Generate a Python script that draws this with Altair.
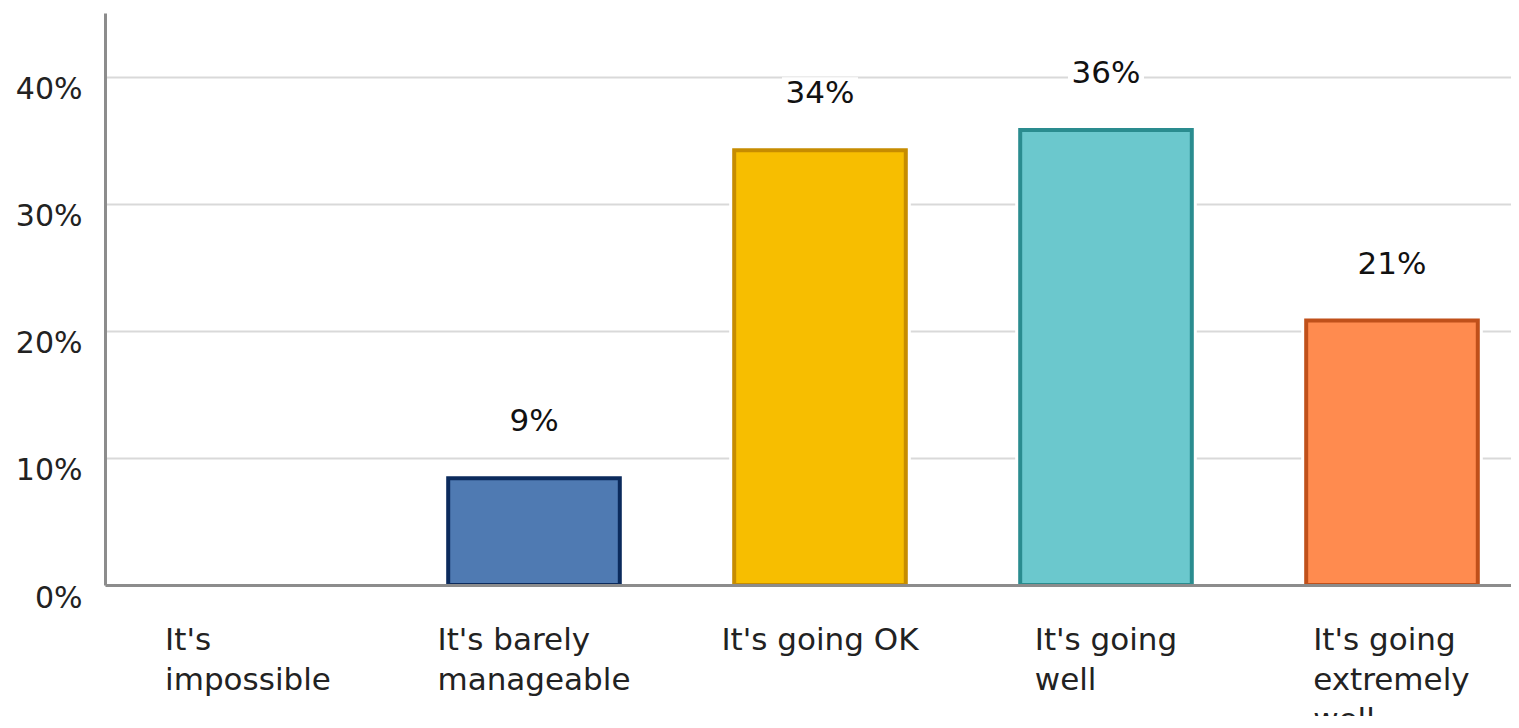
import altair as alt
import pandas as pd

cats = ["It's impossible", "It's barely manageable", "It's going OK",
        "It's going well", "It's going extremely well"]
label_lines = [["It's", "impossible"], ["It's barely", "manageable"], ["It's going OK"],
               ["It's going", "well"], ["It's going", "extremely", "well"]]
values = [0.0, 0.084, 0.342, 0.358, 0.208]
pct_labels = ["0%", "9%", "34%", "36%", "21%"]
fills = ["#9a9a9a", "#4f7ab2", "#f7be00", "#6bc8cd", "#ff8b4f"]
edges = ["#6a6a6a", "#0b2a5c", "#c68c00", "#2a8c8f", "#c0501a"]
y_ticks = [0, 0.1, 0.2, 0.3, 0.4]

FONT = "DejaVu Sans"
FS = 31
# approximate DejaVu Sans advance widths (em) for centering the multi-line label blocks
CW = {"I": .295, "t": .392, "'": .275, "s": .521, " ": .318, "i": .278, "m": .974,
      "p": .635, "o": .612, "b": .635, "l": .278, "e": .615, "a": .613, "r": .411,
      "y": .592, "n": .634, "g": .635, "O": .787, "K": .656, "w": .818, "x": .592}


def text_w(s):
    return sum(CW.get(c, .6) for c in s) * FS


df = pd.DataFrame({
    "idx": list(range(len(cats))),
    "cat": cats,
    "value": values,
    "pct": pct_labels,
    "lab": ["\n".join(l) for l in label_lines],
})

x_enc = alt.X("cat:N", sort=cats,
              scale=alt.Scale(domain=cats, range=[0, 1430], paddingInner=0.4, paddingOuter=0.2),
              axis=alt.Axis(title=None, labels=False, ticks=False, grid=False,
                            domainColor="#8c8c8c", domainWidth=3, zindex=1))
y_enc = alt.Y("value:Q", scale=alt.Scale(domain=[0, 0.45], nice=False, zero=True),
              axis=alt.Axis(title=None, values=y_ticks, format=".0%", ticks=False, tickSize=0,
                            labelPadding=23, labelOffset=13, labelFontSize=30, labelFont=FONT,
                            labelColor="#222222", domainColor="#8c8c8c", domainWidth=3,
                            gridColor="#d9d9d9", gridWidth=2))

base = alt.Chart(df)
nonzero = base.transform_filter(alt.datum.value > 0)

halo = nonzero.mark_bar(fill="white", stroke="white", strokeWidth=10).encode(x=x_enc, y=y_enc)

bars = nonzero.mark_bar(strokeWidth=4).encode(
    x=x_enc, y=y_enc,
    fill=alt.Fill("cat:N", scale=alt.Scale(domain=cats, range=fills), legend=None),
    stroke=alt.Stroke("cat:N", scale=alt.Scale(domain=cats, range=edges), legend=None),
)

label_bg = nonzero.mark_tick(color="white", thickness=30, size=76, yOffset=-58, opacity=1).encode(
    x=x_enc, y=y_enc)

value_text = nonzero.mark_text(font=FONT, fontSize=FS, color="#111111", baseline="alphabetic",
                               dy=-47).encode(x=x_enc, y=y_enc, text="pct:N")

cat_layers = []
for i, lines in enumerate(label_lines):
    w = max(text_w(l) for l in lines)
    cat_layers.append(
        base.transform_filter(alt.datum.idx == i).mark_text(
            font=FONT, fontSize=FS, color="#222222", align="left", baseline="alphabetic",
            lineBreak="\n", lineHeight=40, xOffset=-w / 2
        ).encode(x=x_enc, y=alt.value(637), text="lab:N")
    )

chart = alt.layer(halo, bars, label_bg, value_text, *cat_layers).properties(
    width=1406, height=572,
    autosize=alt.AutoSizeParams(type="none"),
    padding={"left": 97, "top": 5, "right": 0, "bottom": 131},
).configure_view(stroke=None)

chart.save("out.html", embed_options={"renderer": "svg", "actions": False})
